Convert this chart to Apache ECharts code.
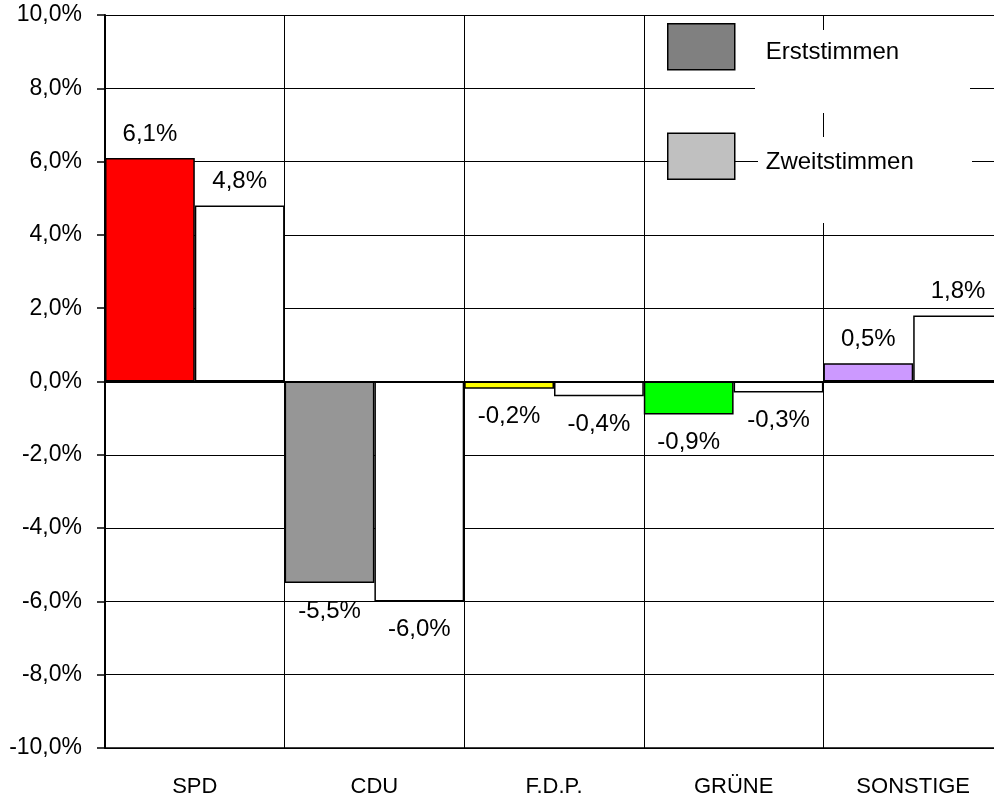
<!DOCTYPE html>
<html>
<head>
<meta charset="utf-8">
<script src="https://cdn.jsdelivr.net/npm/echarts@6/dist/echarts.min.js"></script>
<style>
  html, body { margin: 0; padding: 0; background: #fff; }
  #box { width: 994px; height: 805px; }
</style>
</head>
<body>
<div id="box"></div>
<script>
  const categories = ['SPD', 'CDU', 'F.D.P.', 'GRÜNE', 'SONSTIGE'];
  const erststimmen = [6.1, -5.5, -0.2, -0.9, 0.5];
  const zweitstimmen = [4.8, -6.0, -0.4, -0.3, 1.8];
  const erstColors = ['#ff0000', '#969696', '#ffff00', '#00ff00', '#cc99ff'];
  const yMin = -10;
  const yMax = 10;
  const yStep = 2;

  const font = '"Liberation Sans", Arial, sans-serif';
  const pct = (v) => v.toFixed(1).replace('.', ',') + '%';

  const barLabel = (v) => ({
    show: true,
    position: 'outside',
    distance: v < 0 ? 16 : 12,
    color: '#000',
    fontSize: 24,
    fontFamily: font,
    formatter: (p) => pct(p.value),
  });

  const chart = echarts.init(document.getElementById('box'));

  chart.setOption({
    animation: false,
    backgroundColor: '#fff',
    grid: { left: 105, width: 898, top: 15, bottom: 57, outerBoundsMode: 'none', containLabel: false },
    legend: {
      orient: 'vertical',
      left: 667,
      top: 23,
      padding: 0,
      itemWidth: 67,
      itemHeight: 46,
      itemGap: 62,
      icon: 'rect',
      formatter: (name) => '{t|' + name + '}',
      textStyle: {
        fontSize: 24,
        fontFamily: font,
        color: '#000',
        rich: { t: { fontSize: 24, fontFamily: font, color: '#000', padding: [12, 0, 0, 26] } },
      },
      data: [
        { name: 'Erststimmen', itemStyle: { color: '#808080', borderColor: '#000', borderWidth: 1.5 } },
        { name: 'Zweitstimmen', itemStyle: { color: '#c0c0c0', borderColor: '#000', borderWidth: 1.5 } },
      ],
    },
    graphic: [
      { type: 'rect', z: 3, shape: { x: 755, y: 30, width: 215, height: 83 }, style: { fill: '#fff' } },
      { type: 'rect', z: 3, shape: { x: 758, y: 137, width: 214, height: 86 }, style: { fill: '#fff' } },
    ],
    xAxis: [
      {
        type: 'category',
        data: categories,
        axisLine: { onZero: false, lineStyle: { color: '#000', width: 1.5 } },
        axisTick: { show: false },
        axisLabel: { margin: 28, fontSize: 22, fontFamily: font, color: '#000' },
        splitLine: { show: true, interval: 0, lineStyle: { color: '#000', width: 1 } },
      },
      {
        type: 'category',
        data: categories,
        axisLine: { onZero: true, lineStyle: { color: '#000', width: 2 } },
        axisTick: { show: false },
        axisLabel: { show: false },
        splitLine: { show: false },
      },
    ],
    yAxis: {
      type: 'value',
      min: yMin,
      max: yMax,
      interval: yStep,
      axisLine: { show: true, lineStyle: { color: '#000', width: 2 } },
      axisTick: { show: true, length: 8, lineStyle: { color: '#000', width: 1.5 } },
      axisLabel: { margin: 23, fontSize: 23, fontFamily: font, color: '#000', formatter: pct },
      splitLine: { show: true, lineStyle: { color: '#000', width: 1 } },
    },
    series: [
      {
        name: 'Erststimmen',
        type: 'bar',
        barGap: '0%',
        barCategoryGap: '0%',
        itemStyle: { color: '#808080', borderColor: '#000', borderWidth: 1.5 },
        data: erststimmen.map((v, i) => ({
          value: v,
          itemStyle: { color: erstColors[i] },
          label: barLabel(v),
        })),
      },
      {
        name: 'Zweitstimmen',
        type: 'bar',
        barGap: '0%',
        barCategoryGap: '0%',
        itemStyle: { color: '#fff', borderColor: '#000', borderWidth: 1.5 },
        data: zweitstimmen.map((v) => ({ value: v, label: barLabel(v) })),
      },
    ],
  });
</script>
</body>
</html>
